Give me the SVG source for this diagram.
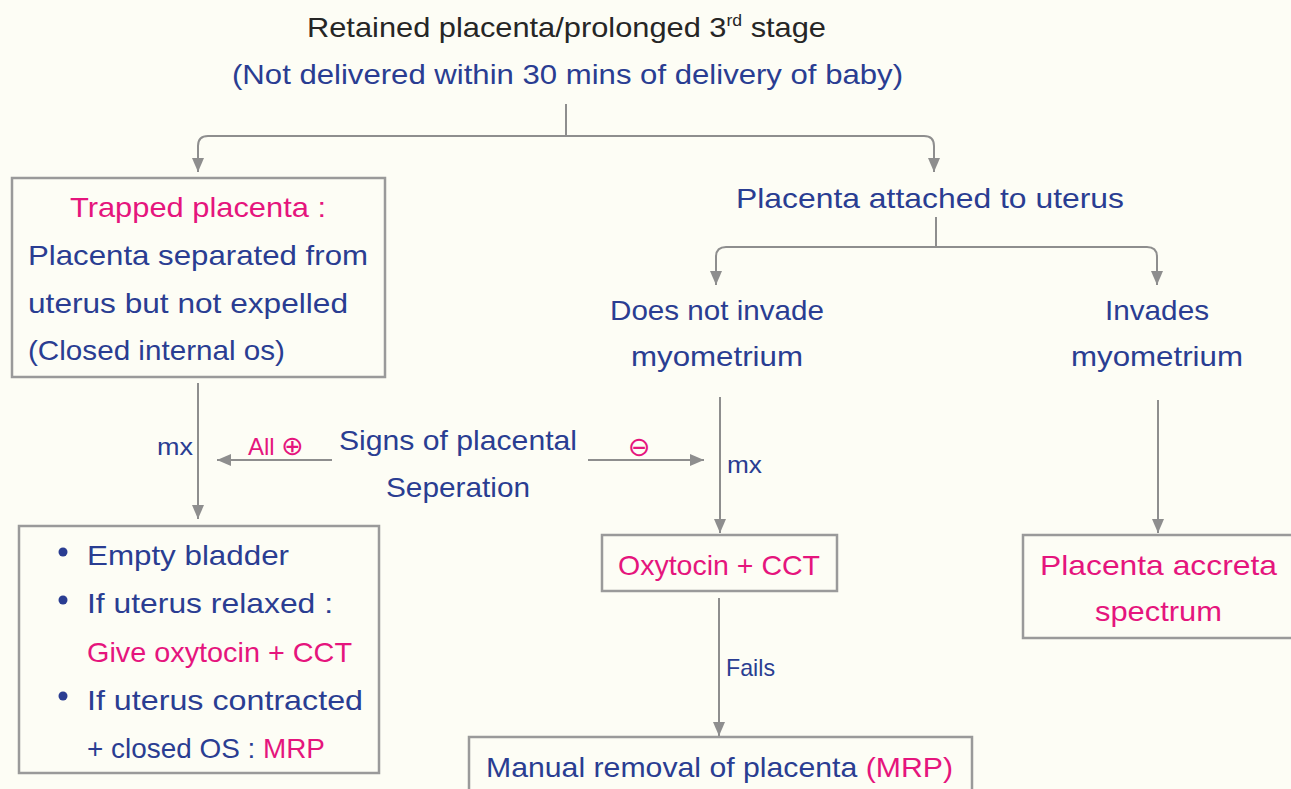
<svg xmlns="http://www.w3.org/2000/svg" width="1291" height="789" viewBox="0 0 1291 789">
<style>
.t{font-family:"Liberation Sans","DejaVu Sans",sans-serif;font-size:28px;}
.k{fill:#262626;}
.b{fill:#2a3d92;}
.p{fill:#e5157d;}
.box{fill:#fdfdf5;stroke:#9a9a9a;stroke-width:2.5;}
.c{fill:none;stroke:#8e8e8e;stroke-width:2;}
.lbl{font-size:24px;}
.sym{font-family:"DejaVu Sans",sans-serif;font-size:27px;}
</style>
<defs>
<marker id="ah" viewBox="0 0 14 12" refX="14" refY="6" markerWidth="14" markerHeight="12" orient="auto" markerUnits="userSpaceOnUse">
<path d="M0,0 L14,6 L0,12 z" fill="#8e8e8e"/>
</marker>
</defs>
<rect x="0" y="0" width="1291" height="789" fill="#fdfdf5"/>

<g id="connectors">
<path class="c" d="M566,104 V136"/>
<path class="c" d="M566,136 H208 Q198,136 198,146 V172" marker-end="url(#ah)"/>
<path class="c" d="M566,136 H924 Q934,136 934,146 V172" marker-end="url(#ah)"/>
<path class="c" d="M936,217 V247"/>
<path class="c" d="M936,247 H726 Q716,247 716,257 V285" marker-end="url(#ah)"/>
<path class="c" d="M936,247 H1147 Q1157,247 1157,257 V285" marker-end="url(#ah)"/>
<path class="c" d="M198,383 V519" marker-end="url(#ah)"/>
<path class="c" d="M332,460 H217" marker-end="url(#ah)"/>
<path class="c" d="M588,460 H704" marker-end="url(#ah)"/>
<path class="c" d="M720,397 V533" marker-end="url(#ah)"/>
<path class="c" d="M719,598 V736" marker-end="url(#ah)"/>
<path class="c" d="M1158,400 V533" marker-end="url(#ah)"/>
<text class="t b lbl" x="157" y="455" textLength="36" lengthAdjust="spacingAndGlyphs">mx</text>
<text class="t p lbl" x="248" y="455">All <tspan class="sym">⊕</tspan></text>
<text class="p sym" x="628" y="456">⊖</text>
<text class="t b lbl" x="727" y="473" textLength="35" lengthAdjust="spacingAndGlyphs">mx</text>
<text class="t b lbl" x="726" y="676" textLength="49" lengthAdjust="spacingAndGlyphs">Fails</text>
</g>

<g id="title">
<text class="t k" x="307" y="37" textLength="519" lengthAdjust="spacingAndGlyphs">Retained placenta/prolonged 3<tspan font-size="16" dy="-11">rd</tspan><tspan dy="11"> stage</tspan></text>
<text class="t b" x="232" y="84" textLength="671" lengthAdjust="spacingAndGlyphs">(Not delivered within 30 mins of delivery of baby)</text>
</g>

<g id="trapped">
<rect class="box" x="12" y="178" width="373" height="199"/>
<text class="t p" x="70" y="217" textLength="256" lengthAdjust="spacingAndGlyphs">Trapped placenta :</text>
<text class="t b" x="28" y="265" textLength="340" lengthAdjust="spacingAndGlyphs">Placenta separated from</text>
<text class="t b" x="28" y="313" textLength="320" lengthAdjust="spacingAndGlyphs">uterus but not expelled</text>
<text class="t b" x="28" y="360" textLength="257" lengthAdjust="spacingAndGlyphs">(Closed internal os)</text>
</g>

<g id="signs">
<text class="t b" x="339" y="450" textLength="238" lengthAdjust="spacingAndGlyphs">Signs of placental</text>
<text class="t b" x="386" y="497" textLength="144" lengthAdjust="spacingAndGlyphs">Seperation</text>
</g>

<g id="management">
<rect class="box" x="19" y="526" width="360" height="247"/>
<circle cx="63" cy="552" r="4.5" fill="#2a3d92"/>
<circle cx="63" cy="600" r="4.5" fill="#2a3d92"/>
<circle cx="63" cy="696" r="4.5" fill="#2a3d92"/>
<text class="t b" x="87" y="565" textLength="202" lengthAdjust="spacingAndGlyphs">Empty bladder</text>
<text class="t b" x="87" y="613" textLength="246" lengthAdjust="spacingAndGlyphs">If uterus relaxed :</text>
<text class="t p" x="87" y="662" textLength="265" lengthAdjust="spacingAndGlyphs">Give oxytocin + CCT</text>
<text class="t b" x="87" y="710" textLength="276" lengthAdjust="spacingAndGlyphs">If uterus contracted</text>
<text class="t b" x="87" y="758" textLength="238" lengthAdjust="spacingAndGlyphs">+ closed OS : <tspan class="p">MRP</tspan></text>
</g>

<g id="attached">
<text class="t b" x="736" y="208" textLength="388" lengthAdjust="spacingAndGlyphs">Placenta attached to uterus</text>
</g>

<g id="not-invade">
<text class="t b" x="610" y="320" textLength="214" lengthAdjust="spacingAndGlyphs">Does not invade</text>
<text class="t b" x="631" y="366" textLength="172" lengthAdjust="spacingAndGlyphs">myometrium</text>
</g>

<g id="invades">
<text class="t b" x="1105" y="320" textLength="104" lengthAdjust="spacingAndGlyphs">Invades</text>
<text class="t b" x="1071" y="366" textLength="172" lengthAdjust="spacingAndGlyphs">myometrium</text>
</g>

<g id="oxytocin">
<rect class="box" x="602" y="535" width="235" height="56"/>
<text class="t p" x="618" y="575" textLength="202" lengthAdjust="spacingAndGlyphs">Oxytocin + CCT</text>
</g>

<g id="mrp">
<rect class="box" x="469" y="737" width="503" height="70"/>
<text class="t b" x="486" y="777" textLength="467" lengthAdjust="spacingAndGlyphs">Manual removal of placenta <tspan class="p">(MRP)</tspan></text>
</g>

<g id="accreta">
<rect class="box" x="1023" y="535" width="290" height="103"/>
<text class="t p" x="1040" y="575" textLength="237" lengthAdjust="spacingAndGlyphs">Placenta accreta</text>
<text class="t p" x="1095" y="621" textLength="127" lengthAdjust="spacingAndGlyphs">spectrum</text>
</g>
</svg>
